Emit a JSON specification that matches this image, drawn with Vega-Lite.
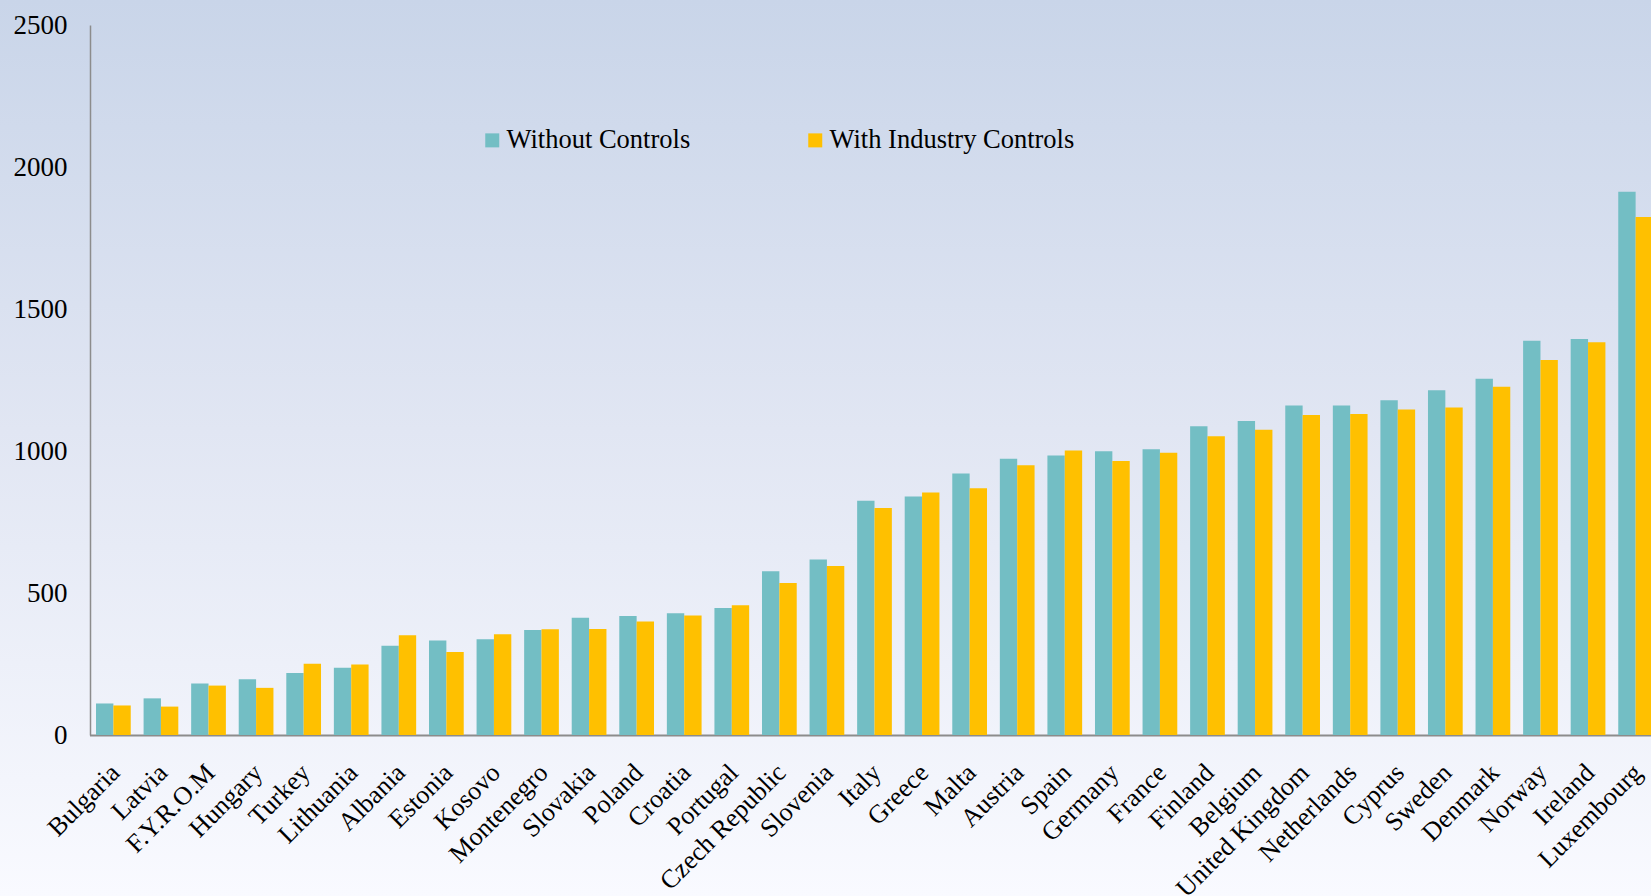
{
  "$schema": "https://vega.github.io/schema/vega-lite/v6.json",
  "width": 1651,
  "height": 896,
  "autosize": {"type": "none"},
  "padding": 0,
  "background": "#f9faff",
  "view": {
    "stroke": null,
    "fill": {
      "gradient": "linear",
      "x1": 0, "y1": 0, "x2": 0, "y2": 1,
      "stops": [
        {"offset": 0, "color": "#c9d5e9"},
        {"offset": 0.48, "color": "#e1e6f3"},
        {"offset": 1, "color": "#f9faff"}
      ]
    }
  },
  "config": {
    "font": "Liberation Serif",
    "axis": {"labelFont": "Liberation Serif", "labelColor": "#000000", "grid": false, "ticks": false, "tickSize": 0, "title": null},
    "legend": {"labelFont": "Liberation Serif"}
  },
  "data": {
    "values": [
      {"country": "Bulgaria", "series": "Without Controls", "value": 111},
      {"country": "Bulgaria", "series": "With Industry Controls", "value": 104},
      {"country": "Latvia", "series": "Without Controls", "value": 129},
      {"country": "Latvia", "series": "With Industry Controls", "value": 100},
      {"country": "F.Y.R.O.M", "series": "Without Controls", "value": 181},
      {"country": "F.Y.R.O.M", "series": "With Industry Controls", "value": 174},
      {"country": "Hungary", "series": "Without Controls", "value": 196},
      {"country": "Hungary", "series": "With Industry Controls", "value": 166},
      {"country": "Turkey", "series": "Without Controls", "value": 218},
      {"country": "Turkey", "series": "With Industry Controls", "value": 251},
      {"country": "Lithuania", "series": "Without Controls", "value": 237},
      {"country": "Lithuania", "series": "With Industry Controls", "value": 248},
      {"country": "Albania", "series": "Without Controls", "value": 314},
      {"country": "Albania", "series": "With Industry Controls", "value": 351},
      {"country": "Estonia", "series": "Without Controls", "value": 333},
      {"country": "Estonia", "series": "With Industry Controls", "value": 292},
      {"country": "Kosovo", "series": "Without Controls", "value": 337},
      {"country": "Kosovo", "series": "With Industry Controls", "value": 355},
      {"country": "Montenegro", "series": "Without Controls", "value": 370},
      {"country": "Montenegro", "series": "With Industry Controls", "value": 372},
      {"country": "Slovakia", "series": "Without Controls", "value": 413},
      {"country": "Slovakia", "series": "With Industry Controls", "value": 373},
      {"country": "Poland", "series": "Without Controls", "value": 419},
      {"country": "Poland", "series": "With Industry Controls", "value": 400},
      {"country": "Croatia", "series": "Without Controls", "value": 429},
      {"country": "Croatia", "series": "With Industry Controls", "value": 421},
      {"country": "Portugal", "series": "Without Controls", "value": 447},
      {"country": "Portugal", "series": "With Industry Controls", "value": 457},
      {"country": "Czech Republic", "series": "Without Controls", "value": 577},
      {"country": "Czech Republic", "series": "With Industry Controls", "value": 535},
      {"country": "Slovenia", "series": "Without Controls", "value": 618},
      {"country": "Slovenia", "series": "With Industry Controls", "value": 595},
      {"country": "Italy", "series": "Without Controls", "value": 825},
      {"country": "Italy", "series": "With Industry Controls", "value": 799},
      {"country": "Greece", "series": "Without Controls", "value": 840},
      {"country": "Greece", "series": "With Industry Controls", "value": 854},
      {"country": "Malta", "series": "Without Controls", "value": 921},
      {"country": "Malta", "series": "With Industry Controls", "value": 869},
      {"country": "Austria", "series": "Without Controls", "value": 973},
      {"country": "Austria", "series": "With Industry Controls", "value": 950},
      {"country": "Spain", "series": "Without Controls", "value": 984},
      {"country": "Spain", "series": "With Industry Controls", "value": 1002},
      {"country": "Germany", "series": "Without Controls", "value": 999},
      {"country": "Germany", "series": "With Industry Controls", "value": 965},
      {"country": "France", "series": "Without Controls", "value": 1006},
      {"country": "France", "series": "With Industry Controls", "value": 994},
      {"country": "Finland", "series": "Without Controls", "value": 1087},
      {"country": "Finland", "series": "With Industry Controls", "value": 1052},
      {"country": "Belgium", "series": "Without Controls", "value": 1106},
      {"country": "Belgium", "series": "With Industry Controls", "value": 1075},
      {"country": "United Kingdom", "series": "Without Controls", "value": 1160},
      {"country": "United Kingdom", "series": "With Industry Controls", "value": 1127},
      {"country": "Netherlands", "series": "Without Controls", "value": 1160},
      {"country": "Netherlands", "series": "With Industry Controls", "value": 1130},
      {"country": "Cyprus", "series": "Without Controls", "value": 1179},
      {"country": "Cyprus", "series": "With Industry Controls", "value": 1146},
      {"country": "Sweden", "series": "Without Controls", "value": 1214},
      {"country": "Sweden", "series": "With Industry Controls", "value": 1153},
      {"country": "Denmark", "series": "Without Controls", "value": 1254},
      {"country": "Denmark", "series": "With Industry Controls", "value": 1226},
      {"country": "Norway", "series": "Without Controls", "value": 1388},
      {"country": "Norway", "series": "With Industry Controls", "value": 1320},
      {"country": "Ireland", "series": "Without Controls", "value": 1394},
      {"country": "Ireland", "series": "With Industry Controls", "value": 1383},
      {"country": "Luxembourg", "series": "Without Controls", "value": 1913},
      {"country": "Luxembourg", "series": "With Industry Controls", "value": 1824}
    ]
  },
  "mark": {"type": "bar", "strokeWidth": 0},
  "encoding": {
    "x": {
      "field": "country",
      "type": "nominal",
      "sort": null,
      "scale": {"range": [89.5, 1659.5], "paddingInner": 0.27, "paddingOuter": 0.137},
      "axis": {
        "title": null,
        "offset": -161,
        "labelAngle": -45,
        "labelAlign": "right",
        "labelBaseline": "top",
        "labelFontSize": 26,
        "labelPadding": 24,
        "labelOffset": -7,
        "labelOverlap": false,
        "labelLimit": 0,
        "domainColor": "#8c8c8c",
        "domainWidth": 2
      }
    },
    "xOffset": {
      "field": "series",
      "type": "nominal",
      "sort": ["Without Controls", "With Industry Controls"],
      "scale": {"paddingInner": 0, "paddingOuter": 0}
    },
    "y": {
      "field": "value",
      "type": "quantitative",
      "scale": {"domain": [0, 2500], "range": [735, 25], "nice": false, "zero": true},
      "axis": {
        "title": null,
        "offset": -90,
        "format": "d",
        "values": [0, 500, 1000, 1500, 2000, 2500],
        "labelFontSize": 27,
        "labelPadding": 23,
        "labelBaseline": "middle",
        "domainColor": "#8c8c8c",
        "domainWidth": 1.5
      }
    },
    "color": {
      "field": "series",
      "type": "nominal",
      "sort": ["Without Controls", "With Industry Controls"],
      "scale": {"domain": ["Without Controls", "With Industry Controls"], "range": ["#73BEC4", "#FFC000"]},
      "legend": {
        "title": null,
        "orient": "none",
        "legendX": 479,
        "legendY": 127,
        "direction": "horizontal",
        "columns": 2,
        "columnPadding": 111,
        "padding": 0,
        "symbolType": "square",
        "symbolSize": 196,
        "symbolStrokeWidth": 0,
        "symbolOpacity": 1,
        "labelFontSize": 26.5,
        "labelColor": "#000000",
        "labelOffset": 1,
        "labelLimit": 0
      }
    }
  }
}
